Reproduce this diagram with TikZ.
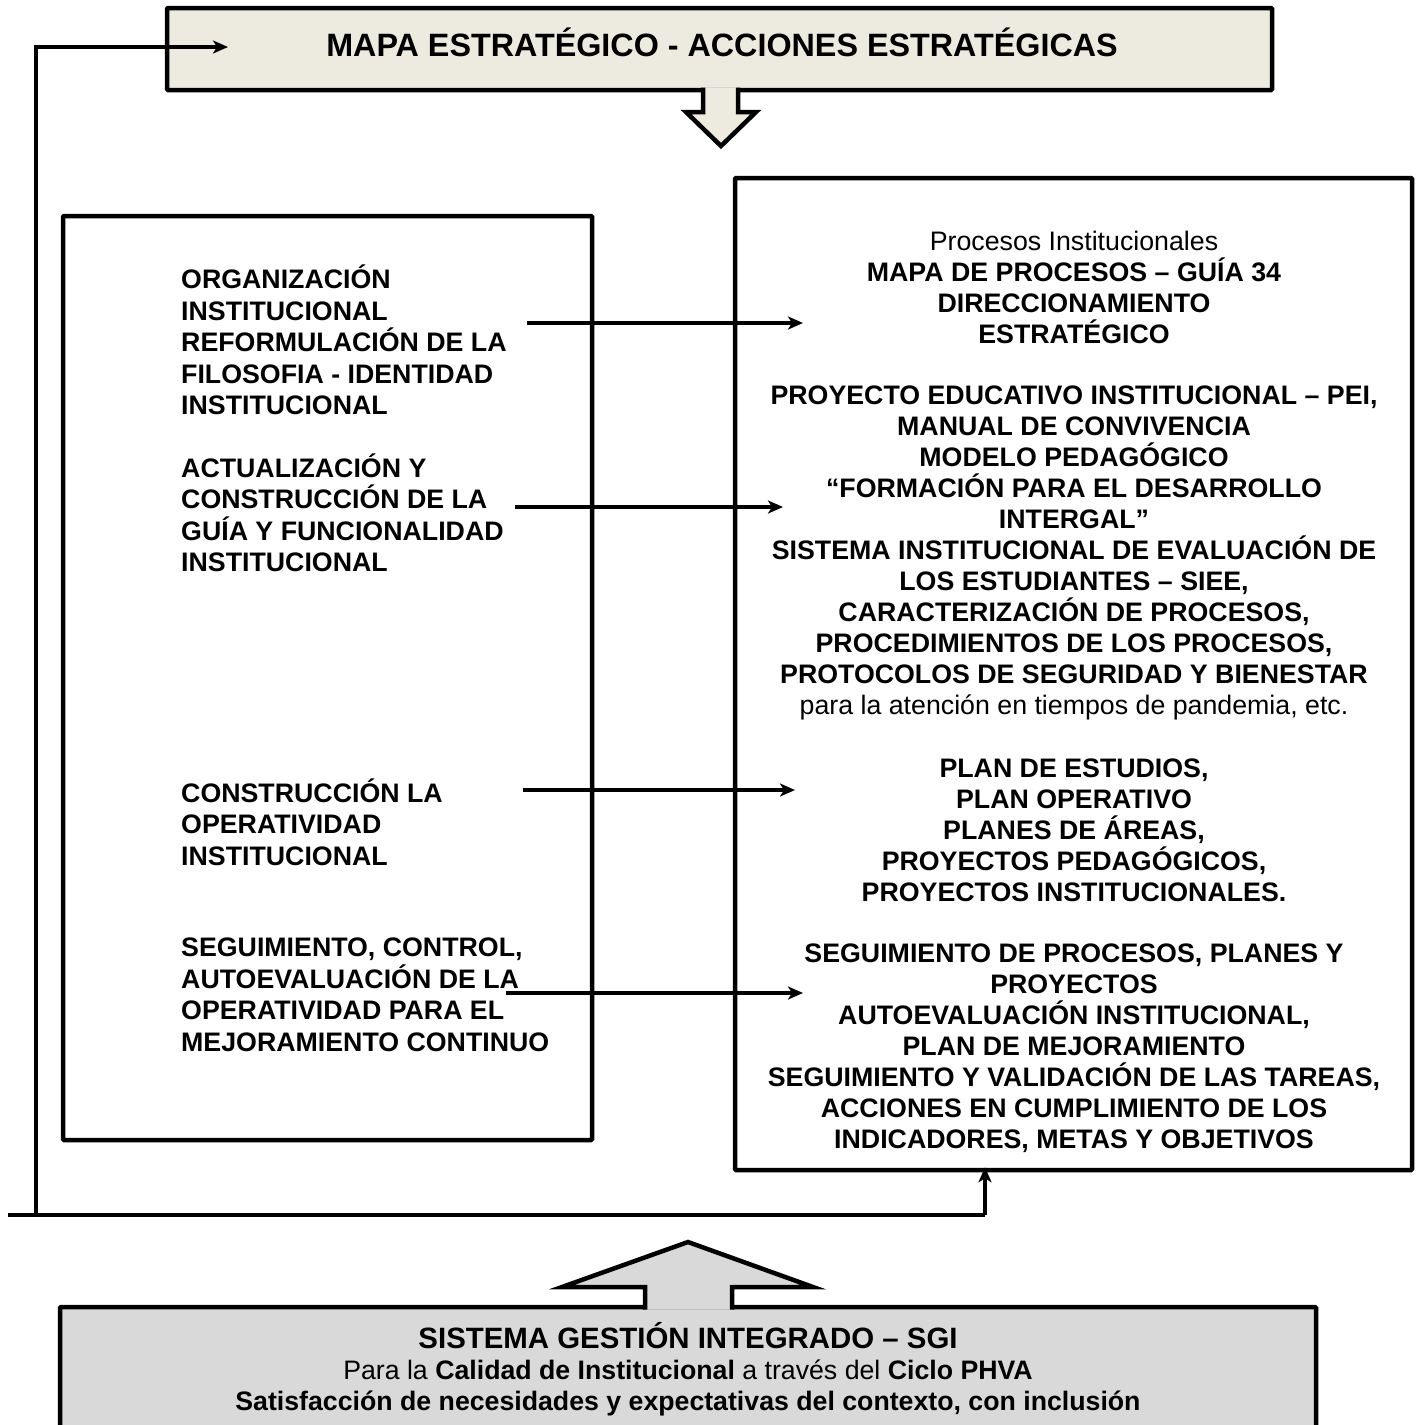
\documentclass[tikz,border=0pt]{standalone}
\usepackage{fontspec}
\setmainfont{Liberation Sans}
\usetikzlibrary{arrows.meta}
\definecolor{mapafill}{HTML}{EDEBE0}
\definecolor{sgifill}{HTML}{D9D9D9}
\tikzset{
	box/.style={draw, line width=4.5pt, rounded corners=1pt, inner sep=0pt},
	accion/.style={font=\fontsize{26.75}{31.5}\selectfont\bfseries, align=left,
		anchor=west, inner sep=0pt},
	proceso/.style={font=\fontsize{26.75}{31}\selectfont\bfseries, align=center,
		inner sep=0pt},
	link/.style={line width=4pt, -{Stealth[length=15pt,width=13pt,inset=4pt]}},
	lazo/.style={line width=4.5pt}
}

\begin{document}
\begin{tikzpicture}[x=1pt, y=-1pt]
	\useasboundingbox (0,0) rectangle (1420,1425);
	\node[box, fill=mapafill, minimum width=1105pt, minimum height=82pt] (mapa)
	at (719.5,49) {};
	\node[font=\fontsize{32.3}{36}\selectfont\bfseries, inner sep=0pt] (titulo)
	at (722,42) {MAPA ESTRATÉGICO - ACCIONES ESTRATÉGICAS};
	\node[box, minimum width=529pt, minimum height=924pt] (acciones)
	at (327.5,678) {};
	\node[box, minimum width=677pt, minimum height=992pt] (procesos)
	at (1073.5,674) {};
	\node[box, fill=sgifill, minimum width=1256pt, minimum height=133pt] (sgi)
	at (688,1373.5) {};
	
	\filldraw[fill=mapafill, line width=4.5pt, line join=miter] (703,87.5) -- (703,112)
	-- (686,112) -- (721,146) -- (756,112) -- (738,112) -- (738,87.5);
	\filldraw[fill=sgifill, line width=4.5pt, line join=miter] (645,1309.5) -- (645,1287)
	-- (562,1287) -- (688,1242) -- (813,1287) -- (732,1287) -- (732,1309.5);
	
	\node[accion] (a1) at (181,340) {ORGANIZACIÓN\\INSTITUCIONAL\\
		REFORMULACIÓN DE LA\\FILOSOFIA - IDENTIDAD\\INSTITUCIONAL};
	\node[accion] (a2) at (181,513) {ACTUALIZACIÓN Y\\CONSTRUCCIÓN DE LA\\
		GUÍA Y FUNCIONALIDAD\\INSTITUCIONAL};
	\node[accion] (a3) at (181,822) {CONSTRUCCIÓN LA\\OPERATIVIDAD\\
		INSTITUCIONAL};
	\node[accion] (a4) at (181,995) {SEGUIMIENTO, CONTROL,\\
		AUTOEVALUACIÓN DE LA\\OPERATIVIDAD PARA EL\\MEJORAMIENTO CONTINUO};
	
	\node[proceso] (p1) at (1074,287) {\mdseries Procesos Institucionales\\
		MAPA DE PROCESOS – GUÍA 34\\DIRECCIONAMIENTO\\ESTRATÉGICO};
	\node[proceso] (p2) at (1074,553) {PROYECTO EDUCATIVO INSTITUCIONAL – PEI,\\
		MANUAL DE CONVIVENCIA\\MODELO PEDAGÓGICO\\
		“FORMACIÓN PARA EL DESARROLLO\\INTERGAL”\\
		SISTEMA INSTITUCIONAL DE EVALUACIÓN DE\\LOS ESTUDIANTES – SIEE,\\
		CARACTERIZACIÓN DE PROCESOS,\\PROCEDIMIENTOS DE LOS PROCESOS,\\
		PROTOCOLOS DE SEGURIDAD Y BIENESTAR\\
		\mdseries para la atención en tiempos de pandemia, etc.};
	\node[proceso] (p3) at (1074,830) {PLAN DE ESTUDIOS,\\PLAN OPERATIVO\\
		PLANES DE ÁREAS,\\PROYECTOS PEDAGÓGICOS,\\PROYECTOS INSTITUCIONALES.};
	\node[proceso] (p4) at (1074,1048) {SEGUIMIENTO DE PROCESOS, PLANES Y\\
		PROYECTOS\\AUTOEVALUACIÓN INSTITUCIONAL,\\PLAN DE MEJORAMIENTO\\
		SEGUIMIENTO Y VALIDACIÓN DE LAS TAREAS,\\
		ACCIONES EN CUMPLIMIENTO DE LOS\\INDICADORES, METAS Y OBJETIVOS};
	
	\node[font=\fontsize{26.7}{31}\selectfont, align=center, inner sep=0pt] (sgitexto)
	at (688,1369) {{\fontsize{29.4}{31}\selectfont\bfseries SISTEMA GESTIÓN INTEGRADO – SGI}\\
		Para la \textbf{Calidad de Institucional} a través del \textbf{Ciclo PHVA}\\
		\textbf{Satisfacción de necesidades y expectativas del contexto, con inclusión}};
	
	\foreach \i/\a/\b/\y in {1/527/803/323, 2/515/783/507, 3/523/795/790,
		4/506/803/993}{
		\coordinate (s\i) at (\a,\y);
		\coordinate (e\i) at (\b,\y);
		\draw[link] (s\i) -- (e\i);
	}
	
	\coordinate (l0) at (8,1215);
	\coordinate (l1) at (36,1215);
	\coordinate (l2) at (36,47);
	\coordinate (l3) at (228,47);
	\coordinate (l4) at (985,1215);
	\draw[lazo] (l0) -- (l4);
	\draw[link] (l4) -- ([yshift=5pt]l4 |- procesos.south);
	\draw[link] (l1) -- (l2) -- (l3);
\end{tikzpicture}
\end{document}
